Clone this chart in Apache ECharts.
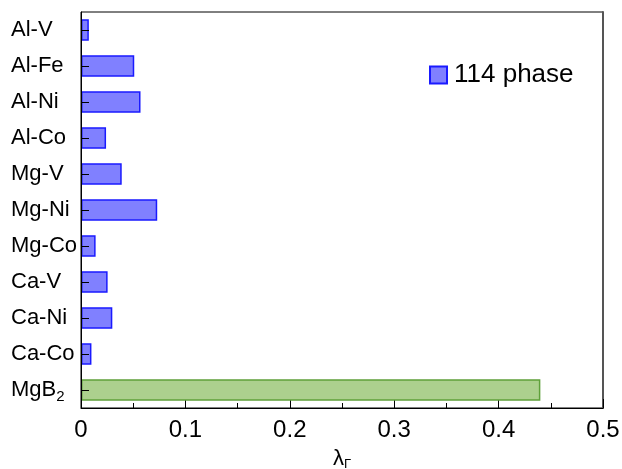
<!DOCTYPE html>
<html>
<head>
<meta charset="utf-8">
<script src="https://cdn.jsdelivr.net/npm/echarts@6/dist/echarts.min.js"></script>
<style>html,body{margin:0;padding:0;background:#fff;}#c{width:622px;height:469px;}</style>
</head>
<body>
<div id="c"></div>
<script>
const categories = ['Al-V','Al-Fe','Al-Ni','Al-Co','Mg-V','Mg-Ni','Mg-Co','Ca-V','Ca-Ni','Ca-Co','MgB2'];
const phase114 = [0.0075,0.051,0.057,0.024,0.039,0.073,0.014,0.0255,0.030,0.010,'-'];
const mgb2 = ['-','-','-','-','-','-','-','-','-','-',0.44];
const xTicks = [0,0.1,0.2,0.3,0.4,0.5];

const chart = echarts.init(document.getElementById('c'), null, {renderer:'canvas'});
const font = 'Liberation Sans, Arial, sans-serif';
chart.setOption({
  animation:false,
  backgroundColor:'#fff',
  grid:{left:81,right:19,top:12,bottom:61,show:true,borderColor:'#000',borderWidth:1,containLabel:false,outerBoundsMode:'none'},
  legend:{
    data:['114 phase'], left:429, top:62, padding:0,
    itemWidth:17, itemHeight:17, itemGap:8,
    icon:'rect',
    textStyle:{fontSize:26,fontFamily:font,color:'#000',padding:[0,0,0,2]}
  },
  xAxis:{
    type:'value', min:xTicks[0], max:xTicks[xTicks.length-1], interval:0.1,
    name:'{a|λ}{b|Γ}', nameLocation:'middle', nameGap:38,
    nameTextStyle:{rich:{a:{fontSize:22,fontFamily:font,color:'#000'},b:{fontSize:13,fontFamily:font,color:'#000',verticalAlign:'bottom',padding:[12,0,0,0]}}},
    axisLine:{lineStyle:{color:'#000',width:1}},
    axisTick:{inside:true,length:9,lineStyle:{color:'#000'}},
    minorTick:{show:true,splitNumber:2,length:5,lineStyle:{color:'#000'}},
    splitLine:{show:false},
    axisLabel:{fontSize:24,fontFamily:font,color:'#000',margin:10,
      formatter:v=>String(Math.round(v*10)/10)}
  },
  yAxis:[{
    type:'category', data:categories, inverse:true, zlevel:1,
    axisLine:{show:true,lineStyle:{color:'#000',width:1}},
    axisTick:{show:true,interval:0,inside:true,length:8,alignWithLabel:true,lineStyle:{color:'#000',width:1}},
    axisLabel:{fontSize:22,fontFamily:font,color:'#000',margin:70,align:'left',
      formatter:v=> v==='MgB2' ? '{n|MgB}{s|2}' : v,
      rich:{n:{fontSize:22,fontFamily:font,color:'#000'},s:{fontSize:15,fontFamily:font,color:'#000',verticalAlign:'bottom',padding:[14,0,0,0]}}}
  },{
    type:'value', position:'right', min:0, max:1,
    axisLine:{show:true,lineStyle:{color:'#555',width:2}},
    axisTick:{show:false}, axisLabel:{show:false}, splitLine:{show:false}
  }],
  series:[
    {name:'114 phase', type:'bar', stack:'s', data:phase114, barWidth:'60%',
      itemStyle:{color:'#8080ff',borderColor:'#1a1aff',borderWidth:1.5}},
    {name:'MgB2', type:'bar', stack:'s', data:mgb2, barWidth:'60%',
      itemStyle:{color:'#acd08e',borderColor:'#5fa03a',borderWidth:1.5}}
  ]
});
</script>
</body>
</html>
